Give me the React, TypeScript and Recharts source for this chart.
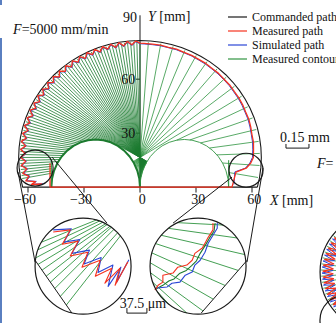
import { ScatterChart, Scatter, XAxis, YAxis, ReferenceDot } from 'recharts'

const W = 336
const H = 323
const SERIF = '"Liberation Serif", "Times New Roman", serif'
const BLACK = '#1a1a1a'
const RED = '#f5321f'
const BLUE = '#2a46d6'
const GREEN = '#2f9440'
const DARK_GREEN = '#1b7a2e'

// plot frame in mm (x: -75..105, y: -75.5..104)
const X_DOMAIN: [number, number] = [-75, 105]
const Y_DOMAIN: [number, number] = [-75.5, 104]
const PX_X = W / (X_DOMAIN[1] - X_DOMAIN[0])
const PX_Y = H / (Y_DOMAIN[1] - Y_DOMAIN[0])

// commanded path: arc R = 65 mm about (0, 16.5), closed by the bottom edge
const R = 65
const CY = 16.5
const ERR_GAIN = 0.0821 // plot mm per µm of error (0.15 mm scale bar)

const xTicks = [-60, -30, 0, 30, 60]
const yTicks = [30, 60]

const commandedAngles = [
  -14.7, -10, -5, 0, 5, 10, 15, 20, 25, 30, 35, 40, 45, 50, 55, 60, 65, 70, 75, 80, 85, 90,
  95, 100, 105, 110, 115, 120, 125, 130, 135, 140, 145, 150, 155, 160, 165, 170, 175, 180,
  185, 190, 194.7,
]

// radial error (µm) of the measured / simulated path along the arc
const pathAngles = [
  -9, -6, -3, 0, 4, 8, 12, 16, 20, 24, 28, 32, 36, 40, 44, 48, 52, 56, 60, 64, 68, 72, 76, 80, 84, 88,
  90, 92, 94, 96, 98, 100, 102, 104, 106, 108, 110, 112, 114, 116, 118, 120, 122, 124, 126, 128, 130,
  132, 134, 136, 138, 140, 142, 144, 146, 148, 150, 152, 154, 156, 158, 160, 162, 164, 166, 168, 170,
  172, 174, 176, 178, 180, 182, 184, 186, 188, 190, 192, 193.5, 194.5, 195.7,
]
const measuredErr = [
  -158, -95, -68, -52, -49, -44, -45, -40, -36, -37, -33, -31, -32, -28, -29, -26, -27, -24, -25, -23,
  -24, -21, -23, -20, -21, -19,
  -18, -3, -27, -2, -29, -3, -30, -2, -29, -3, -31, -2, -30, -3, -32, -4, -31, -3, -33, -4, -32, -5,
  -34, -4, -33, -5, -35, -6, -34, -5, -36, -7, -35, -6, -37, -8, -36, -7, -39, -9, -38, -10, -41, -11,
  -43, -13, -45, -15, -49, -19, -56, -30, -90, -60, -128,
]
const simulatedErr = [
  -165, -100, -74, -58, -54, -50, -49, -45, -41, -41, -38, -36, -36, -33, -33, -31, -31, -29, -29, -27,
  -27, -25, -26, -24, -24, -23,
  -22, -8, -32, -7, -34, -8, -35, -7, -34, -8, -36, -7, -35, -8, -37, -9, -36, -8, -38, -9, -37, -10,
  -39, -9, -38, -10, -40, -11, -39, -10, -41, -12, -40, -11, -42, -13, -41, -12, -44, -14, -43, -15, -46, -16,
  -48, -18, -50, -20, -54, -24, -62, -36, -96, -66, -134,
]
// straight bottom edge of the measured path (mm)
const measuredBottom = [
  { x: -48.2, y: 13.3 },
  { x: -48.2, y: 0 },
  { x: 49.3, y: 0 },
]

// measured contour: spoke angles (deg) — sparse on the right, dense on the left
const spokeAngles = [
  -10, -4, 2, 8, 14, 20, 26, 32, 38, 44, 50, 56, 62, 68, 74, 80, 86,
  90, 91.5, 93, 94.5, 96, 97.5, 99, 100.5, 102, 103.5, 105, 106.5, 108, 109.5, 111, 112.5, 114,
  115.5, 117, 118.5, 120, 121.5, 123, 124.5, 126, 127.5, 129, 130.5, 132, 133.5, 135, 136.5, 138,
  139.5, 141, 142.5, 144, 145.5, 147, 148.5, 150, 151.5, 153, 154.5, 156, 157.5, 159, 160.5, 162,
  163.5, 165, 166.5, 168, 169.5, 171, 172.5, 174, 175.5, 177, 178.5, 180, 181.5, 183, 184.5, 186,
  187.5, 189, 190.5,
]
const LOBE_C = 23.75
const LOBE_RX = 23.75
const LOBE_RY = 26.5
const WALL_X = 47.5
const WALL_H = 13
const lobeAngles = [0, 10, 20, 30, 40, 50, 60, 70, 80, 90, 100, 110, 120, 130, 140, 150, 160, 170, 180]

// magnified insets (local µm, 37.5 µm bar)
const INSET_PX_PER_UM = 0.533
const LENS_R = 90
const leftLens = { x: -30.5, y: -43.9 }
const rightLens = { x: 31.1, y: -43.9 }
const leftInsetRed = [[-56, 64], [-24, 68], [-39, 41], [-9, 47], [-24, 19], [9, 26], [-2, -2], [32, 11], [23, -19], [54, -4], [41, -32], [69, -4], [60, -36], [84, 8]]
const leftInsetBlue = [[-56, 68], [-22, 70], [-36, 45], [-6, 50], [-21, 24], [12, 30], [2, 4], [34, 16], [28, -12], [56, 2], [47, -38], [71, -2], [63, -30], [86, 12]]
const leftInsetChord = [[-90, 11], [-21, -88]]
const leftInsetRays = [[150, 22], [160, 25], [170, 28], [180, 31], [190, 35], [200, 38], [210, 42], [220, 45], [232, 48], [245, 52]]
const rightInsetRed = [[-81, -45], [-75, -36], [-66, -30], [-66, -17], [-47, -13], [-38, -2], [-21, 2], [-11, 11], [-6, 24], [8, 34], [13, 43], [19, 54], [28, 68], [28, 81]]
const rightInsetBlue = [[-77, -41], [-58, -39], [-49, -32], [-34, -30], [-24, -17], [-11, -11], [-6, 2], [4, 11], [13, 26], [19, 43], [28, 58], [36, 71], [36, 81]]
const rightInsetGreen = [[-79, -43], [-66, -36], [-55, -28], [-45, -24], [-35, -14], [-22, -8], [-12, 1], [-3, 10], [4, 24], [13, 38], [21, 52], [30, 66], [32, 81]]
const rightInsetChord = [[92, 11], [6, -88]]
const rightInsetRays = [[115, -3], [128, -8], [140, -13], [152, -18], [164, -24], [176, -30], [188, -36], [200, -42], [212, -48]]

// neighbouring panel cut off at the right edge
const sidePanel = { x: 128.6, y: -47.2 }
const sideAngles = [130, 133, 136, 139, 142, 145, 148, 151, 154, 157, 160, 163, 166, 169, 172, 175, 178, 181, 184, 187, 190, 193, 196, 199, 202, 205, 208, 211, 214, 217, 220, 223, 226, 229, 232, 235, 238, 241, 244, 247]

const legendItems = [
  { name: 'Commanded path', color: BLACK },
  { name: 'Measured path', color: RED },
  { name: 'Simulated path', color: BLUE },
  { name: 'Measured contour', color: GREEN },
]

const rad = (d: number) => (d * Math.PI) / 180
const polar = (deg: number, r: number) => ({ x: r * Math.cos(rad(deg)), y: CY + r * Math.sin(rad(deg)) })

function solid(x: number, y: number) {
  if (y <= 0) return true
  const inLobe = (c: number) => ((x - c) / LOBE_RX) ** 2 + (y / LOBE_RY) ** 2 <= 1
  if (inLobe(-LOBE_C) || inLobe(LOBE_C)) return true
  return Math.abs(x) <= WALL_X && Math.abs(x) >= WALL_X - 8 && y <= WALL_H
}

function spoke(deg: number) {
  const s = polar(deg, R - 0.8)
  const dx = -Math.cos(rad(deg))
  const dy = -Math.sin(rad(deg))
  let t = 0
  let x = s.x
  let y = s.y
  while (t < 150 && !solid(x, y)) {
    t += 0.2
    x = s.x + dx * t
    y = s.y + dy * t
  }
  return [s, { x, y }]
}

const lens = (c: { x: number; y: number }, pts: number[][]) =>
  pts.map(([u, v]) => ({ x: c.x + (u * INSET_PX_PER_UM) / PX_X, y: c.y + (v * INSET_PX_PER_UM) / PX_Y }))

function lensRays(rays: number[][], chord: number[][]) {
  const [[ax, ay], [bx, by]] = chord
  const side = (x: number, y: number) => (bx - ax) * (y - ay) - (by - ay) * (x - ax)
  const keep = Math.sign(side(0, 0))
  return rays.map(([startDeg, dirDeg]) => {
    const x0 = LENS_R * Math.cos(rad(startDeg))
    const y0 = LENS_R * Math.sin(rad(startDeg))
    const dx = Math.cos(rad(dirDeg))
    const dy = Math.sin(rad(dirDeg))
    let first: number[] | null = null
    let last: number[] | null = null
    for (let t = 0; t <= 2 * LENS_R; t += 0.5) {
      const x = x0 + dx * t
      const y = y0 + dy * t
      const ok = x * x + y * y <= (LENS_R + 0.5) ** 2 && Math.sign(side(x, y)) === keep
      if (ok) {
        if (!first) first = [x, y]
        last = [x, y]
      }
    }
    return first && last ? [first, last] : []
  })
}

const side = (deg: number, rpx: number) => ({
  x: sidePanel.x + (rpx * Math.cos(rad(deg))) / PX_X,
  y: sidePanel.y + (rpx * Math.sin(rad(deg))) / PX_Y,
})

const noDot = () => <g />

const line = (key: string, data: { x: number; y: number }[], stroke: string, width = 1) => (
  <Scatter
    key={key}
    data={data}
    line={{ stroke, strokeWidth: width, strokeLinejoin: 'round' }}
    shape={noDot}
    isAnimationActive={false}
    legendType="none"
  />
)

const ring = (key: string, c: { x: number; y: number }, r: number, width = 1.2) => (
  <ReferenceDot key={key} x={c.x} y={c.y} r={r} fill="none" stroke={BLACK} strokeWidth={width} ifOverflow="visible" />
)

const label = (key: string, x: number, y: number, content: any, anchor = 'middle', size = 14) => (
  <ReferenceDot
    key={key}
    x={x}
    y={y}
    r={0}
    ifOverflow="visible"
    shape={(p: any) => (
      <text x={p.cx} y={p.cy} dy="0.35em" textAnchor={anchor} fontSize={size} fontFamily={SERIF} fill="#111">
        {content}
      </text>
    )}
  />
)

export default function App() {
  const commanded = [...commandedAngles.map((a) => polar(a, R)), polar(commandedAngles[0], R)]
  const measured = [...measuredBottom, ...pathAngles.map((a, i) => polar(a, R + measuredErr[i] * ERR_GAIN))]
  const simulated = [{ x: 50.3, y: 1.5 }, ...pathAngles.map((a, i) => polar(a, R + simulatedErr[i] * ERR_GAIN))]
  const lobe = (c: number) => lobeAngles.map((a) => ({ x: c + LOBE_RX * Math.cos(rad(a)), y: LOBE_RY * Math.sin(rad(a)) }))
  const leftRays = lensRays(leftInsetRays, leftInsetChord)
  const rightRays = lensRays(rightInsetRays, rightInsetChord)

  return (
    <div style={{ position: 'absolute', left: 0, top: 0, width: W, height: H, background: '#fff', overflow: 'hidden' }}>
      <ScatterChart width={W} height={H} margin={{ top: 0, right: 0, bottom: 0, left: 0 }}>
        <XAxis type="number" dataKey="x" domain={X_DOMAIN} allowDataOverflow hide />
        <YAxis type="number" dataKey="y" domain={Y_DOMAIN} allowDataOverflow hide />

        {/* axes through the origin */}
        {line('yaxis', [{ x: 0, y: 0 }, { x: 0, y: 95.5 }], BLACK)}
        {yTicks.map((t) => line(`yt${t}`, [{ x: -2.2, y: t }, { x: 0, y: t }], BLACK))}
        {xTicks.map((t) => line(`xt${t}`, [{ x: t, y: 0 }, { x: t, y: -3 }], BLACK))}

        {/* measured contour */}
        {spokeAngles.map((a) => line(`sp${a}`, spoke(a), a > 88 ? DARK_GREEN : GREEN, 0.8))}
        {line('lobeL', lobe(-LOBE_C), DARK_GREEN, 2)}
        {line('lobeR', lobe(LOBE_C), GREEN, 0.9)}
        {line('wallL', [{ x: -WALL_X, y: 0 }, { x: -WALL_X, y: WALL_H + 2 }], GREEN, 1)}
        {line('wallR', [{ x: WALL_X, y: 0 }, { x: WALL_X, y: WALL_H + 2 }], GREEN, 1)}

        {line('commanded', commanded, BLACK, 1.1)}
        {line('simulated', simulated, BLUE, 1)}
        {line('measured', measured, RED, 1.3)}

        {/* magnifier callouts */}
        {ring('lensL', { x: -56.2, y: 10.6 }, 18)}
        {ring('lensR', { x: 56.8, y: 9.4 }, 17)}
        {line('cL1', [{ x: -65.3, y: 8.3 }, { x: -56.2, y: -41.7 }], BLACK)}
        {line('cL2', [{ x: -47.1, y: 16.7 }, { x: -17.7, y: -20 }], BLACK)}
        {line('cR1', [{ x: 49.3, y: 5.6 }, { x: 17.7, y: -20 }], BLACK)}
        {line('cR2', [{ x: 65.9, y: 10.6 }, { x: 57.3, y: -41.7 }], BLACK)}

        {leftRays.map((seg, i) => (seg.length ? line(`lr${i}`, lens(leftLens, seg), GREEN, 0.9) : null))}
        {line('lchord', lens(leftLens, leftInsetChord), BLACK)}
        {line('lblue', lens(leftLens, leftInsetBlue), BLUE, 1.1)}
        {line('lred', lens(leftLens, leftInsetRed), RED, 1.1)}
        {ring('insetL', leftLens, 48)}

        {rightRays.map((seg, i) => (seg.length ? line(`rr${i}`, lens(rightLens, seg), GREEN, 0.9) : null))}
        {line('rchord', lens(rightLens, rightInsetChord), BLACK)}
        {line('rgreen', lens(rightLens, rightInsetGreen), DARK_GREEN, 1.1)}
        {line('rblue', lens(rightLens, rightInsetBlue), BLUE, 1.1)}
        {line('rred', lens(rightLens, rightInsetRed), RED, 1.1)}
        {ring('insetR', rightLens, 48)}

        {/* neighbouring panel */}
        {sideAngles.map((a, i) => (i % 2 === 0 ? line(`sg${a}`, [side(a, 44), side(a, 59)], GREEN, 0.8) : null))}
        {line('sblue', sideAngles.map((a, i) => side(a, i % 2 ? 58 : 47)), BLUE, 1)}
        {line('sred', sideAngles.map((a, i) => side(a + 1, i % 2 ? 47 : 57)), RED, 1.2)}
        {ring('sideBig', sidePanel, 60)}
        {ring('sideSmall', { x: 109.8, y: -74 }, 25)}

        {/* scale bars */}
        {line('bar1', [{ x: 78.2, y: 24 }, { x: 78.2, y: 21.7 }, { x: 78.2 + 150 * ERR_GAIN, y: 21.7 }, { x: 78.2 + 150 * ERR_GAIN, y: 24 }], BLACK)}
        {line('bar2', [{ x: -7, y: -67.2 }, { x: -7, y: -70 }, { x: 3.7, y: -70 }, { x: 3.7, y: -67.2 }], BLACK)}

        {/* text */}
        {xTicks.map((t) =>
          t < 0 ? label(`xl${t}`, t + 4.3, -6.7, `−${-t}`, 'end') : label(`xl${t}`, t + 1.2, -6.7, `${t}`),
        )}
        {yTicks.map((t) => label(`yl${t}`, -2.6, t, `${t}`, 'end'))}
        {label('y90', -1.6, 94.4, '90', 'end')}
        {label('ytitle', 4.3, 95.3, <><tspan fontStyle="italic">Y</tspan> [mm]</>, 'start')}
        {label('xtitle', 69.6, -7, <><tspan fontStyle="italic">X</tspan> [mm]</>, 'start')}
        {label('feed', -68, 87.8, <><tspan fontStyle="italic">F</tspan>=5000 mm/min</>, 'start')}
        {label('bar1t', 88.4, 27.8, '0.15 mm')}
        {label('feed2', 94.8, 13.3, <><tspan fontStyle="italic">F</tspan>=</>, 'start')}
        {label('bar2t', 1.6, -64.4, '37.5 μm')}
      </ScatterChart>

      <div style={{ position: 'absolute', left: 0, top: 38, width: 2, height: H - 38, background: '#5a7fc0' }} />
      <div style={{ position: 'absolute', left: 0, top: 0, width: 2, height: 5, background: '#5a7fc0' }} />

      <svg width={W} height={70} style={{ position: 'absolute', left: 0, top: 0 }}>
        {legendItems.map((it, i) => (
          <g key={it.name}>
            <line x1={228} x2={247} y1={17 + i * 14} y2={17 + i * 14} stroke={it.color} strokeWidth={1.2} />
            <text x={252} y={21 + i * 14} fontSize={12} fontFamily={SERIF} fill="#111">
              {it.name}
            </text>
          </g>
        ))}
      </svg>
    </div>
  )
}
